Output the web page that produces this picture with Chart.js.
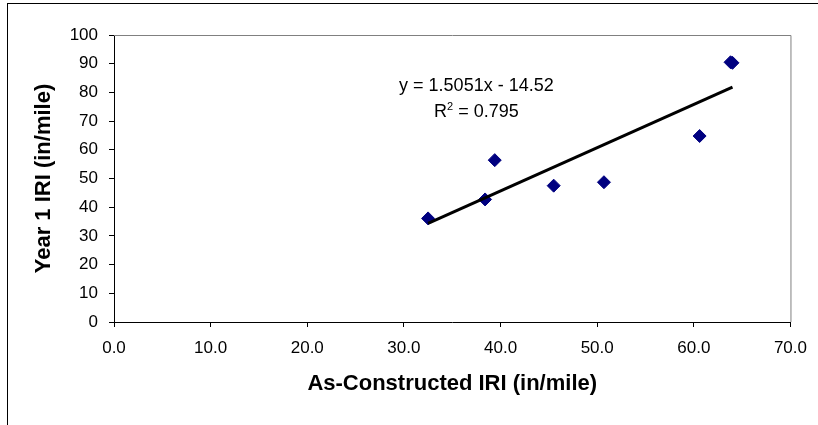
<!DOCTYPE html>
<html>
<head>
<meta charset="utf-8">
<script src="https://cdn.jsdelivr.net/npm/chart.js@4.4.0/dist/chart.umd.min.js"></script>
<style>
    html, body { margin: 0; padding: 0; background: #fff; }
    #wrap { position: relative; width: 818px; height: 425px; }
    #frame {
        position: absolute; left: 7px; top: 3px; right: 0; bottom: 0;
        border-top: 1px solid #000; border-left: 1px solid #000;
        pointer-events: none;
    }
</style>
</head>
<body>
<div id="wrap">
    <canvas id="iriChart"></canvas>
    <div id="frame"></div>
</div>
<script>
// As-constructed IRI vs. year 1 IRI (in/mile)
const asConstructed = [32.5, 38.4, 39.4, 45.5, 50.7, 60.6, 63.8, 64.0];
const year1 = [36.1, 42.7, 56.4, 47.5, 48.7, 64.8, 90.5, 90.3];

// linear trendline end points
const trendX = [32.5, 64.0];
const trendY = [34.4, 81.8];

const xTicks = [0, 10, 20, 30, 40, 50, 60, 70];
const yTicks = [0, 10, 20, 30, 40, 50, 60, 70, 80, 90, 100];

const eqLine1 = "y = 1.5051x - 14.52";
const eqR2 = "0.795";

const FONT = "'Liberation Sans', Arial, Helvetica, sans-serif";

/* --------------------------------------------------
   PLUGIN: gray plot border + trendline label
-------------------------------------------------- */
const plotExtras = {
    id: "plotExtras",
    beforeDatasetsDraw(chart) {
        const { ctx, chartArea: a } = chart;
        ctx.save();
        ctx.strokeStyle = "#808080";
        ctx.lineWidth = 1;
        ctx.beginPath();
        ctx.moveTo(a.left, a.top + 0.5);
        ctx.lineTo(a.right + 0.5, a.top + 0.5);
        ctx.lineTo(a.right + 0.5, a.bottom);
        ctx.stroke();
        ctx.restore();
    },
    afterDraw(chart) {
        const { ctx, scales } = chart;
        const cx = scales.x.getPixelForValue(37.5);
        const y1 = scales.y.getPixelForValue(82.3);
        const y2 = scales.y.getPixelForValue(73.2);

        ctx.save();
        ctx.fillStyle = "#000";
        ctx.textBaseline = "middle";
        ctx.font = "18px " + FONT;
        ctx.textAlign = "center";
        ctx.fillText(eqLine1, cx, y1);

        // R² with a small superscript
        const big = "18px " + FONT;
        const small = "11px " + FONT;
        const rest = " = " + eqR2;
        ctx.font = big;
        const wR = ctx.measureText("R").width;
        const wRest = ctx.measureText(rest).width;
        ctx.font = small;
        const w2 = ctx.measureText("2").width;
        let x = cx - (wR + w2 + wRest) / 2;
        ctx.textAlign = "left";
        ctx.font = big;
        ctx.fillText("R", x, y2);
        x += wR;
        ctx.font = small;
        ctx.fillText("2", x, y2 - 5);
        x += w2;
        ctx.font = big;
        ctx.fillText(rest, x, y2);
        ctx.restore();
    }
};

/* --------------------------------------------------
   CHART
-------------------------------------------------- */
const points = asConstructed.map((v, i) => ({ x: v, y: year1[i] }));
const trend = trendX.map((v, i) => ({ x: v, y: trendY[i] }));

new Chart(document.getElementById("iriChart"), {
    type: "scatter",
    data: {
        datasets: [
            {
                type: "line",
                label: "Linear",
                data: trend,
                borderColor: "#000",
                borderWidth: 3,
                pointRadius: 0,
                fill: false
            },
            {
                label: "IRI",
                data: points,
                pointStyle: "rectRot",
                pointRadius: 6.5,
                pointBorderWidth: 1,
                backgroundColor: "#000080",
                borderColor: "#000080"
            }
        ]
    },
    options: {
        responsive: true,
        maintainAspectRatio: false,
        animation: false,
        layout: { padding: { left: 0, top: 35, right: 26, bottom: 0 } },
        plugins: {
            legend: { display: false },
            tooltip: { enabled: false }
        },
        scales: {
            x: {
                type: "linear",
                min: 0,
                max: 70,
                afterFit: s => { s.height = 103; },
                afterBuildTicks: s => { s.ticks = xTicks.map(v => ({ value: v })); },
                grid: { drawOnChartArea: false, color: "#000", tickLength: 5 },
                border: { color: "#000", width: 1 },
                ticks: {
                    color: "#000",
                    padding: 11,
                    maxRotation: 0,
                    font: { family: FONT, size: 17 },
                    callback: v => v.toFixed(1)
                },
                title: {
                    display: true,
                    text: "As-Constructed IRI (in/mile)",
                    color: "#000",
                    font: { family: FONT, size: 22, weight: "bold" },
                    padding: { top: 0, bottom: 28 }
                }
            },
            y: {
                min: 0,
                max: 100,
                afterFit: s => { s.width = 114; },
                afterBuildTicks: s => { s.ticks = yTicks.map(v => ({ value: v })); },
                grid: { drawOnChartArea: false, color: "#000", tickLength: 5 },
                border: { color: "#000", width: 1 },
                ticks: {
                    color: "#000",
                    padding: 11,
                    font: { family: FONT, size: 17 }
                },
                title: {
                    display: true,
                    text: "Year 1 IRI (in/mile)",
                    color: "#000",
                    font: { family: FONT, size: 22, weight: "bold" },
                    padding: { top: 31, bottom: 0 }
                }
            }
        }
    },
    plugins: [plotExtras]
});
</script>
</body>
</html>
